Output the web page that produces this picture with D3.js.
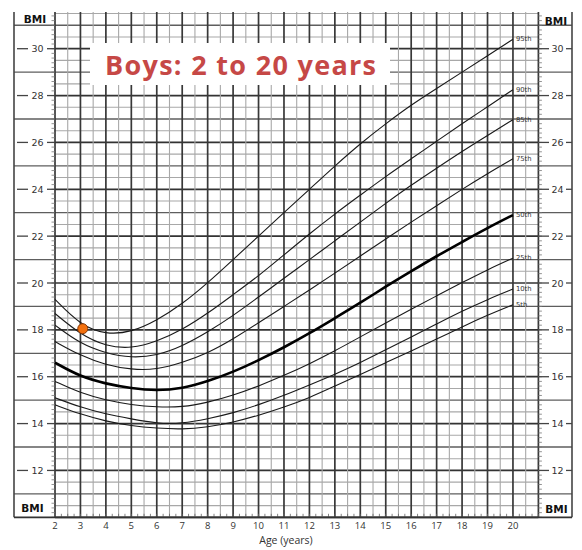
<!DOCTYPE html>
<html>
<head>
<meta charset="utf-8">
<script src="https://cdn.jsdelivr.net/npm/d3@7"></script>
<style>
  html, body { margin: 0; padding: 0; background: #fff; }
  svg { display: block; }
</style>
</head>
<body>
<svg id="chart" width="582" height="550"></svg>
<script>
// ---------- data ----------
const ages = [2,3,4,5,6,7,8,9,10,11,12,13,14,15,16,17,18,19,20];
const p5  = [14.8,14.4,14.1,13.9,13.8,13.75,13.85,14.05,14.35,14.7,15.1,15.6,16.1,16.6,17.1,17.6,18.13,18.63,19.07];
const p10 = [15.1,14.7,14.4,14.2,14.0,14.0,14.2,14.45,14.8,15.2,15.65,16.1,16.6,17.15,17.7,18.25,18.8,19.3,19.74];
const p25 = [15.8,15.3,15.0,14.8,14.7,14.7,14.9,15.2,15.6,16.05,16.55,17.1,17.7,18.3,18.88,19.45,20.02,20.57,21.06];
const p50 = [16.6,16.0,15.7,15.5,15.4,15.5,15.8,16.2,16.7,17.25,17.85,18.5,19.15,19.85,20.5,21.15,21.75,22.35,22.9];
const p75 = [17.5,16.9,16.5,16.3,16.3,16.6,17.0,17.6,18.3,19.0,19.7,20.42,21.15,21.88,22.6,23.3,24.0,24.67,25.3];
const p85 = [18.2,17.4,17.0,16.8,16.9,17.3,17.9,18.6,19.4,20.2,21.0,21.8,22.6,23.4,24.18,24.9,25.62,26.3,26.97];
const p90 = [18.7,17.8,17.3,17.2,17.5,18.0,18.7,19.5,20.3,21.2,22.1,22.95,23.75,24.55,25.3,26.05,26.8,27.52,28.25];
const p95 = [19.3,18.2,17.8,17.9,18.4,19.1,20.0,21.0,22.0,23.0,24.0,25.0,25.95,26.8,27.6,28.3,29.0,29.7,30.4];
const percentileNames = ["5th","10th","25th","50th","75th","85th","90th","95th"];
const percentileValues = [p5, p10, p25, p50, p75, p85, p90, p95];
const ageTickLabels = [2,3,4,5,6,7,8,9,10,11,12,13,14,15,16,17,18,19,20];
const bmiTickLabels = [12,14,16,18,20,22,24,26,28,30];
const patientAge = [3.09];
const patientBmi = [18.05];
const titleText = "Boys: 2 to 20 years";
const xLabel = "Age (years)";
const yLabel = "BMI";

// ---------- layout ----------
const svg = d3.select("#chart");
const x = d3.scaleLinear().domain([2, 21]).range([55, 538.4]);
const y = d3.scaleLinear().domain([10, 30]).range([517.3, 48.7]);
const outerL = 14, outerR = 572, topY = 12;
const gridTop = 31.6;

const g = svg.append("g");

// horizontal grid lines (every 0.5)
const hVals = d3.range(10, 31.51, 0.5);
hVals.forEach(v => {
  const isInt = Math.abs(v - Math.round(v)) < 1e-6;
  const r = Math.round(v);
  let stroke = "#a8a8a8", w = 1.1;
  if (isInt && r % 2 === 0) { stroke = "#333"; w = 1.7; }
  else if (isInt) { stroke = "#5e5e5e"; w = 1.3; }
  let x1 = x(2), x2 = x(21);
  if (isInt && r % 2 === 1) { x1 = outerL; x2 = outerR; }
  g.append("line").attr("x1", x1).attr("x2", x2)
    .attr("y1", y(v)).attr("y2", y(v))
    .attr("stroke", stroke).attr("stroke-width", w);
});

// vertical grid lines (every 0.5 year)
const vVals = d3.range(2, 21.01, 0.5);
vVals.forEach(a => {
  const isInt = Math.abs(a - Math.round(a)) < 1e-6;
  g.append("line").attr("x1", x(a)).attr("x2", x(a))
    .attr("y1", topY).attr("y2", y(10))
    .attr("stroke", isInt ? "#383838" : "#a8a8a8")
    .attr("stroke-width", isInt ? 1.7 : 1.1);
});

// small ticks along left/right grid edges (every 0.2 BMI)
d3.range(10, gridTop, 0.2).forEach(v => {
  g.append("line").attr("x1", x(2) - 3.5).attr("x2", x(2))
    .attr("y1", y(v)).attr("y2", y(v)).attr("stroke", "#777").attr("stroke-width", 0.8);
  g.append("line").attr("x1", x(21)).attr("x2", x(21) + 3.5)
    .attr("y1", y(v)).attr("y2", y(v)).attr("stroke", "#777").attr("stroke-width", 0.8);
});
// small ticks along the bottom (quarter years)
d3.range(2, 21.01, 0.25).forEach(a => {
  g.append("line").attr("x1", x(a)).attr("x2", x(a))
    .attr("y1", y(10)).attr("y2", y(10) - 3.5).attr("stroke", "#666").attr("stroke-width", 0.8);
});

// outer frame
g.append("line").attr("x1", outerL).attr("x2", outerL).attr("y1", topY).attr("y2", y(10))
  .attr("stroke", "#444").attr("stroke-width", 1.6);
g.append("line").attr("x1", outerR).attr("x2", outerR).attr("y1", topY).attr("y2", y(10))
  .attr("stroke", "#444").attr("stroke-width", 1.6);
g.append("line").attr("x1", outerL).attr("x2", outerR).attr("y1", y(10)).attr("y2", y(10))
  .attr("stroke", "#333").attr("stroke-width", 1.8);

// BMI tick labels in margins with dashes
const labelFont = "'DejaVu Sans', Verdana, sans-serif";
bmiTickLabels.forEach(v => {
  const yy = y(v);
  [[17, 28], [47, 55], [539, 549], [566, 572]].forEach(([a, b]) => {
    g.append("line").attr("x1", a).attr("x2", b).attr("y1", yy).attr("y2", yy)
      .attr("stroke", "#444").attr("stroke-width", 1.3);
  });
  g.append("text").attr("x", 37.5).attr("y", yy + 3.5).attr("text-anchor", "middle")
    .attr("font-family", labelFont).attr("font-size", 9.5).attr("fill", "#333").text(v);
  g.append("text").attr("x", 557.5).attr("y", yy + 3.5).attr("text-anchor", "middle")
    .attr("font-family", labelFont).attr("font-size", 9.5).attr("fill", "#333").text(v);
});

// BMI corner labels
[[35, 23], [32.5, 512], [556, 25], [556.5, 513]].forEach(([cx, cy]) => {
  g.append("text").attr("x", cx).attr("y", cy).attr("text-anchor", "middle")
    .attr("font-family", labelFont).attr("font-weight", "bold")
    .attr("font-size", 10.5).attr("fill", "#111").text(yLabel);
});

// age tick labels
ageTickLabels.forEach(a => {
  g.append("text").attr("x", x(a)).attr("y", 528.5).attr("text-anchor", "middle")
    .attr("font-family", "'Open Sans', sans-serif").attr("font-size", 9.5).attr("fill", "#333").text(a);
});
g.append("text").attr("x", 286).attr("y", 544).attr("text-anchor", "middle")
  .attr("font-family", "'Open Sans', sans-serif").attr("font-size", 10.5).attr("fill", "#333").text(xLabel);

// title box
g.append("rect").attr("x", 90).attr("y", 43).attr("width", 300).attr("height", 42).attr("fill", "#fff");
g.append("text").attr("x", 240.5).attr("y", 74.5).attr("text-anchor", "middle")
  .attr("font-family", "'Open Sans', sans-serif").attr("font-weight", "bold")
  .attr("font-size", 27).attr("fill", "#c64846")
  .attr("textLength", 271).attr("lengthAdjust", "spacing").text(titleText);

// percentile curves
const line = d3.line().x((d, i) => x(ages[i])).y(d => y(d)).curve(d3.curveBasis);
percentileValues.forEach((vals, k) => {
  const bold = percentileNames[k] === "50th";
  g.append("path").attr("d", line(vals)).attr("fill", "none")
    .attr("stroke", bold ? "#000" : "#1a1a1a").attr("stroke-width", bold ? 2.6 : 1.1);
  g.append("text").attr("x", x(20) + 3).attr("y", y(vals[vals.length - 1]) + 2)
    .attr("font-family", labelFont).attr("font-size", 6.8).attr("fill", "#333")
    .text(percentileNames[k]);
});

// patient point
g.selectAll("circle.pt").data(patientAge).enter().append("circle")
  .attr("cx", (d) => x(d)).attr("cy", (d, i) => y(patientBmi[i])).attr("r", 5)
  .attr("fill", "#f2700e").attr("stroke", "#8a3a08").attr("stroke-width", 1);
</script>
</body>
</html>
